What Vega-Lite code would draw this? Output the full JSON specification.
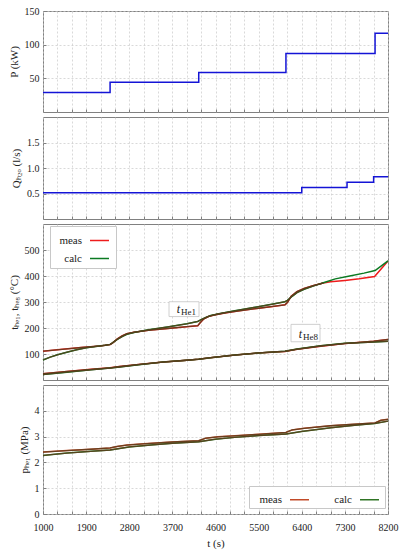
{
  "$schema": "https://vega.github.io/schema/vega-lite/v6.json",
  "autosize": {"type": "pad"},
  "padding": {"left": 7, "top": 5, "right": 5, "bottom": 5},
  "background": "white",
  "bounds": "flush",
  "spacing": 5,
  "config": {
    "font": "Liberation Serif",
    "view": {"stroke": "#808080", "strokeWidth": 1},
    "axis": {
      "labelFont": "Liberation Serif", "labelFontSize": 10, "labelColor": "#222", "labelOverlap": false,
      "titleFont": "Liberation Serif", "titleFontSize": 11, "titleFontWeight": "normal", "titleColor": "#222",
      "gridColor": "#c8c8c8", "gridDash": [2, 2], "gridWidth": 0.7,
      "domain": false, "tickColor": "#808080", "tickSize": -3, "labelPadding": 7, "titlePadding": 5
    },
    "legend": {"labelFont": "Liberation Serif", "labelFontSize": 11, "labelColor": "#222"}
  },
  "datasets": {
    "power": [
      {"t": 1000, "P": 29}, {"t": 2400, "P": 44}, {"t": 4250, "P": 58.5},
      {"t": 6070, "P": 87}, {"t": 7930, "P": 117}, {"t": 8200, "P": 117}
    ],
    "flow": [
      {"t": 1000, "Q": 0.515}, {"t": 6400, "Q": 0.62}, {"t": 7345, "Q": 0.72},
      {"t": 7900, "Q": 0.83}, {"t": 8200, "Q": 0.83}
    ],
    "temp": [
      {"t": 1000, "T": 111, "s": "meas", "v": "tHe1"}, {"t": 1400, "T": 118, "s": "meas", "v": "tHe1"},
      {"t": 1800, "T": 125, "s": "meas", "v": "tHe1"}, {"t": 2200, "T": 131, "s": "meas", "v": "tHe1"},
      {"t": 2400, "T": 136, "s": "meas", "v": "tHe1"}, {"t": 2450, "T": 142, "s": "meas", "v": "tHe1"},
      {"t": 2550, "T": 158, "s": "meas", "v": "tHe1"}, {"t": 2650, "T": 170, "s": "meas", "v": "tHe1"},
      {"t": 2750, "T": 178, "s": "meas", "v": "tHe1"}, {"t": 2900, "T": 184, "s": "meas", "v": "tHe1"},
      {"t": 3200, "T": 191, "s": "meas", "v": "tHe1"}, {"t": 3600, "T": 198, "s": "meas", "v": "tHe1"},
      {"t": 4000, "T": 205, "s": "meas", "v": "tHe1"}, {"t": 4230, "T": 209, "s": "meas", "v": "tHe1"},
      {"t": 4280, "T": 220, "s": "meas", "v": "tHe1"}, {"t": 4350, "T": 234, "s": "meas", "v": "tHe1"},
      {"t": 4450, "T": 244, "s": "meas", "v": "tHe1"}, {"t": 4600, "T": 251, "s": "meas", "v": "tHe1"},
      {"t": 4800, "T": 258, "s": "meas", "v": "tHe1"}, {"t": 5100, "T": 266, "s": "meas", "v": "tHe1"},
      {"t": 5500, "T": 276, "s": "meas", "v": "tHe1"}, {"t": 5800, "T": 283, "s": "meas", "v": "tHe1"},
      {"t": 6050, "T": 289, "s": "meas", "v": "tHe1"}, {"t": 6100, "T": 298, "s": "meas", "v": "tHe1"},
      {"t": 6180, "T": 322, "s": "meas", "v": "tHe1"}, {"t": 6300, "T": 340, "s": "meas", "v": "tHe1"},
      {"t": 6450, "T": 352, "s": "meas", "v": "tHe1"}, {"t": 6650, "T": 364, "s": "meas", "v": "tHe1"},
      {"t": 6850, "T": 373, "s": "meas", "v": "tHe1"}, {"t": 7000, "T": 378, "s": "meas", "v": "tHe1"},
      {"t": 7300, "T": 383, "s": "meas", "v": "tHe1"}, {"t": 7600, "T": 389, "s": "meas", "v": "tHe1"},
      {"t": 7920, "T": 398, "s": "meas", "v": "tHe1"}, {"t": 8200, "T": 458, "s": "meas", "v": "tHe1"},

      {"t": 1000, "T": 77, "s": "calc", "v": "tHe1"}, {"t": 1150, "T": 88, "s": "calc", "v": "tHe1"},
      {"t": 1300, "T": 97, "s": "calc", "v": "tHe1"}, {"t": 1500, "T": 107, "s": "calc", "v": "tHe1"},
      {"t": 1700, "T": 116, "s": "calc", "v": "tHe1"}, {"t": 1900, "T": 124, "s": "calc", "v": "tHe1"},
      {"t": 2100, "T": 129, "s": "calc", "v": "tHe1"}, {"t": 2300, "T": 134, "s": "calc", "v": "tHe1"},
      {"t": 2400, "T": 137, "s": "calc", "v": "tHe1"}, {"t": 2450, "T": 143, "s": "calc", "v": "tHe1"},
      {"t": 2550, "T": 156, "s": "calc", "v": "tHe1"}, {"t": 2650, "T": 167, "s": "calc", "v": "tHe1"},
      {"t": 2750, "T": 176, "s": "calc", "v": "tHe1"}, {"t": 2900, "T": 183, "s": "calc", "v": "tHe1"},
      {"t": 3200, "T": 193, "s": "calc", "v": "tHe1"}, {"t": 3600, "T": 204, "s": "calc", "v": "tHe1"},
      {"t": 4000, "T": 216, "s": "calc", "v": "tHe1"}, {"t": 4230, "T": 225, "s": "calc", "v": "tHe1"},
      {"t": 4300, "T": 232, "s": "calc", "v": "tHe1"}, {"t": 4400, "T": 241, "s": "calc", "v": "tHe1"},
      {"t": 4500, "T": 248, "s": "calc", "v": "tHe1"}, {"t": 4700, "T": 256, "s": "calc", "v": "tHe1"},
      {"t": 5000, "T": 266, "s": "calc", "v": "tHe1"}, {"t": 5400, "T": 279, "s": "calc", "v": "tHe1"},
      {"t": 5800, "T": 292, "s": "calc", "v": "tHe1"}, {"t": 6050, "T": 301, "s": "calc", "v": "tHe1"},
      {"t": 6100, "T": 306, "s": "calc", "v": "tHe1"}, {"t": 6200, "T": 322, "s": "calc", "v": "tHe1"},
      {"t": 6300, "T": 336, "s": "calc", "v": "tHe1"}, {"t": 6450, "T": 349, "s": "calc", "v": "tHe1"},
      {"t": 6650, "T": 362, "s": "calc", "v": "tHe1"}, {"t": 6850, "T": 374, "s": "calc", "v": "tHe1"},
      {"t": 7100, "T": 389, "s": "calc", "v": "tHe1"}, {"t": 7400, "T": 400, "s": "calc", "v": "tHe1"},
      {"t": 7700, "T": 411, "s": "calc", "v": "tHe1"}, {"t": 7930, "T": 421, "s": "calc", "v": "tHe1"},
      {"t": 8200, "T": 458, "s": "calc", "v": "tHe1"},

      {"t": 1000, "T": 24, "s": "meas", "v": "tHe8"}, {"t": 1500, "T": 33, "s": "meas", "v": "tHe8"},
      {"t": 2000, "T": 41, "s": "meas", "v": "tHe8"}, {"t": 2400, "T": 47, "s": "meas", "v": "tHe8"},
      {"t": 2600, "T": 52, "s": "meas", "v": "tHe8"}, {"t": 3000, "T": 60, "s": "meas", "v": "tHe8"},
      {"t": 3500, "T": 69, "s": "meas", "v": "tHe8"}, {"t": 4000, "T": 76, "s": "meas", "v": "tHe8"},
      {"t": 4250, "T": 80, "s": "meas", "v": "tHe8"}, {"t": 4500, "T": 86, "s": "meas", "v": "tHe8"},
      {"t": 5000, "T": 96, "s": "meas", "v": "tHe8"}, {"t": 5500, "T": 104, "s": "meas", "v": "tHe8"},
      {"t": 6050, "T": 110, "s": "meas", "v": "tHe8"}, {"t": 6300, "T": 118, "s": "meas", "v": "tHe8"},
      {"t": 6800, "T": 130, "s": "meas", "v": "tHe8"}, {"t": 7300, "T": 140, "s": "meas", "v": "tHe8"},
      {"t": 7900, "T": 149, "s": "meas", "v": "tHe8"}, {"t": 8200, "T": 156, "s": "meas", "v": "tHe8"},

      {"t": 1000, "T": 21, "s": "calc", "v": "tHe8"}, {"t": 1500, "T": 30, "s": "calc", "v": "tHe8"},
      {"t": 2000, "T": 39, "s": "calc", "v": "tHe8"}, {"t": 2400, "T": 46, "s": "calc", "v": "tHe8"},
      {"t": 2600, "T": 50, "s": "calc", "v": "tHe8"}, {"t": 3000, "T": 59, "s": "calc", "v": "tHe8"},
      {"t": 3500, "T": 69, "s": "calc", "v": "tHe8"}, {"t": 4000, "T": 76, "s": "calc", "v": "tHe8"},
      {"t": 4250, "T": 80, "s": "calc", "v": "tHe8"}, {"t": 4500, "T": 86, "s": "calc", "v": "tHe8"},
      {"t": 5000, "T": 96, "s": "calc", "v": "tHe8"}, {"t": 5500, "T": 104, "s": "calc", "v": "tHe8"},
      {"t": 6050, "T": 111, "s": "calc", "v": "tHe8"}, {"t": 6300, "T": 119, "s": "calc", "v": "tHe8"},
      {"t": 6800, "T": 132, "s": "calc", "v": "tHe8"}, {"t": 7300, "T": 141, "s": "calc", "v": "tHe8"},
      {"t": 7900, "T": 146, "s": "calc", "v": "tHe8"}, {"t": 8200, "T": 149, "s": "calc", "v": "tHe8"}
    ],
    "pres": [
      {"t": 1000, "p": 2.40, "s": "meas"}, {"t": 1500, "p": 2.46, "s": "meas"}, {"t": 2000, "p": 2.51, "s": "meas"},
      {"t": 2400, "p": 2.56, "s": "meas"}, {"t": 2550, "p": 2.62, "s": "meas"}, {"t": 2750, "p": 2.67, "s": "meas"},
      {"t": 3100, "p": 2.72, "s": "meas"}, {"t": 3700, "p": 2.79, "s": "meas"}, {"t": 4250, "p": 2.84, "s": "meas"},
      {"t": 4400, "p": 2.94, "s": "meas"}, {"t": 4650, "p": 2.99, "s": "meas"}, {"t": 5000, "p": 3.03, "s": "meas"},
      {"t": 5500, "p": 3.09, "s": "meas"}, {"t": 6070, "p": 3.16, "s": "meas"}, {"t": 6200, "p": 3.26, "s": "meas"},
      {"t": 6450, "p": 3.32, "s": "meas"}, {"t": 7000, "p": 3.42, "s": "meas"}, {"t": 7500, "p": 3.48, "s": "meas"},
      {"t": 7930, "p": 3.53, "s": "meas"}, {"t": 8050, "p": 3.63, "s": "meas"}, {"t": 8200, "p": 3.67, "s": "meas"},

      {"t": 1000, "p": 2.27, "s": "calc"}, {"t": 1500, "p": 2.36, "s": "calc"}, {"t": 2000, "p": 2.43, "s": "calc"},
      {"t": 2400, "p": 2.48, "s": "calc"}, {"t": 2800, "p": 2.60, "s": "calc"}, {"t": 3300, "p": 2.68, "s": "calc"},
      {"t": 3700, "p": 2.74, "s": "calc"}, {"t": 4250, "p": 2.80, "s": "calc"}, {"t": 4600, "p": 2.90, "s": "calc"},
      {"t": 5000, "p": 2.97, "s": "calc"}, {"t": 5500, "p": 3.04, "s": "calc"}, {"t": 6070, "p": 3.10, "s": "calc"},
      {"t": 6400, "p": 3.20, "s": "calc"}, {"t": 7000, "p": 3.34, "s": "calc"}, {"t": 7500, "p": 3.44, "s": "calc"},
      {"t": 7930, "p": 3.51, "s": "calc"}, {"t": 8200, "p": 3.60, "s": "calc"}
    ],
    "labels": [
      {"t": 3630, "t2": 4256, "T": 244, "T2": 301, "main": "t", "sub": "He1"},
      {"t": 6176, "t2": 6781, "T": 147, "T2": 214, "main": "t", "sub": "He8"}
    ]
  },
  "resolve": {"scale": {"color": "independent"}, "legend": {"color": "independent"}},
  "vconcat": [
    {
      "width": 345, "height": 101,
      "data": {"name": "power"},
      "mark": {"type": "line", "interpolate": "step-after", "color": "#1414d6", "strokeWidth": 1.5},
      "encoding": {
        "x": {"field": "t", "type": "quantitative", "scale": {"domain": [1000, 8200], "nice": false, "zero": false},
              "axis": {"values": [1000,1300,1600,1900,2200,2500,2800,3100,3400,3700,4000,4300,4600,4900,5200,5500,5800,6100,6400,6700,7000,7300,7600,7900,8200], "labels": false, "title": null}},
        "y": {"field": "P", "type": "quantitative", "scale": {"domain": [0, 150], "nice": false},
              "axis": {"values": [50, 100, 150], "title": "P (kW)"}}
      }
    },
    {
      "width": 345, "height": 102,
      "data": {"name": "flow"},
      "mark": {"type": "line", "interpolate": "step-after", "color": "#1414d6", "strokeWidth": 1.5},
      "encoding": {
        "x": {"field": "t", "type": "quantitative", "scale": {"domain": [1000, 8200], "nice": false, "zero": false},
              "axis": {"values": [1000,1300,1600,1900,2200,2500,2800,3100,3400,3700,4000,4300,4600,4900,5200,5500,5800,6100,6400,6700,7000,7300,7600,7900,8200], "labels": false, "title": null}},
        "y": {"field": "Q", "type": "quantitative", "scale": {"domain": [0, 2], "nice": false},
              "axis": {"values": [0.5, 1, 1.5], "title": "Qₕ₂ₒ (l/s)"}}
      }
    },
    {
      "width": 345, "height": 156,
      "encoding": {
        "x": {"field": "t", "type": "quantitative", "scale": {"domain": [1000, 8200], "nice": false, "zero": false},
              "axis": {"values": [1000,1300,1600,1900,2200,2500,2800,3100,3400,3700,4000,4300,4600,4900,5200,5500,5800,6100,6400,6700,7000,7300,7600,7900,8200], "labels": false, "title": null}},
        "y": {"field": "T", "type": "quantitative", "scale": {"domain": [0, 600], "nice": false},
              "axis": {"values": [100, 200, 300, 400, 500], "title": "tₕₑ₁, tₕₑ₈ (°C)"}}
      },
      "layer": [
        {
          "data": {"name": "labels"},
          "mark": {"type": "rect", "fill": "white", "stroke": "#c4c4c4", "strokeWidth": 0.8},
          "encoding": {"x2": {"field": "t2"}, "y2": {"field": "T2"}}
        },
        {
          "data": {"name": "temp"},
          "mark": {"type": "line", "strokeWidth": 1.5},
          "encoding": {
            "color": {"field": "s", "type": "nominal",
                      "scale": {"domain": ["meas", "calc"], "range": ["#ee1c1c", "#0b7a22"]},
                      "legend": {"title": null, "orient": "none", "legendX": 7, "legendY": 2, "symbolType": "stroke",
                                 "symbolStrokeWidth": 1.5, "symbolSize": 361, "fillColor": "white", "strokeColor": "#c8c8c8",
                                 "padding": 4, "rowPadding": 2, "labelFontSize": 11,
                                 "labelAlign": "right", "labelOffset": -28, "symbolOffset": 35}},
            "detail": {"field": "v"}
          }
        },
        {
          "data": {"name": "temp"},
          "transform": [{"filter": "datum.v != 'tHe1' || datum.t <= 6900"}],
          "mark": {"type": "line", "strokeWidth": 1.3, "color": "#5a3c1c", "opacity": 0.85},
          "encoding": {"detail": [{"field": "v"}, {"field": "s"}]}
        },
        {
          "data": {"name": "labels"},
          "mark": {"type": "text", "font": "Liberation Serif", "fontStyle": "italic", "fontSize": 12, "align": "right", "baseline": "middle", "dx": 11, "dy": -8, "color": "#222"},
          "encoding": {"text": {"field": "main"}}
        },
        {
          "data": {"name": "labels"},
          "mark": {"type": "text", "font": "Liberation Serif", "fontSize": 9, "align": "left", "baseline": "middle", "dx": 12, "dy": -5, "color": "#222"},
          "encoding": {"text": {"field": "sub"}}
        }
      ]
    },
    {
      "width": 345, "height": 129,
      "data": {"name": "pres"},
      "encoding": {
        "x": {"field": "t", "type": "quantitative", "scale": {"domain": [1000, 8200], "nice": false, "zero": false},
              "axis": {"values": [1000,1300,1600,1900,2200,2500,2800,3100,3400,3700,4000,4300,4600,4900,5200,5500,5800,6100,6400,6700,7000,7300,7600,7900,8200],
                       "labelExpr": "(datum.value - 1000) % 900 == 0 ? format(datum.value, 'd') : ''",
                       "labelOverlap": false, "labelFlush": false, "labelPadding": 11, "title": "t (s)", "titlePadding": 5}},
        "y": {"field": "p", "type": "quantitative", "scale": {"domain": [0, 5], "nice": false},
              "axis": {"values": [0, 1, 2, 3, 4], "title": "pₕₑ₁ (MPa)"}}
      },
      "layer": [
        {
          "mark": {"type": "line", "strokeWidth": 1.5},
          "encoding": {
            "color": {"field": "s", "type": "nominal",
                      "scale": {"domain": ["meas", "calc"], "range": ["#c24a28", "#2f7424"]},
                      "legend": {"title": null, "orient": "none", "legendX": 206, "legendY": 101, "direction": "horizontal",
                                 "symbolType": "stroke", "symbolStrokeWidth": 1.5, "symbolSize": 361,
                                 "fillColor": "white", "strokeColor": "#c8c8c8", "padding": 3, "columnPadding": 10, "labelFontSize": 11,
                                 "labelAlign": "right", "labelOffset": -28, "symbolOffset": 37}}
          }
        },
        {
          "mark": {"type": "line", "strokeWidth": 1.3, "color": "#5a3c1c", "opacity": 0.85},
          "encoding": {"detail": {"field": "s"}}
        }
      ]
    }
  ]
}
